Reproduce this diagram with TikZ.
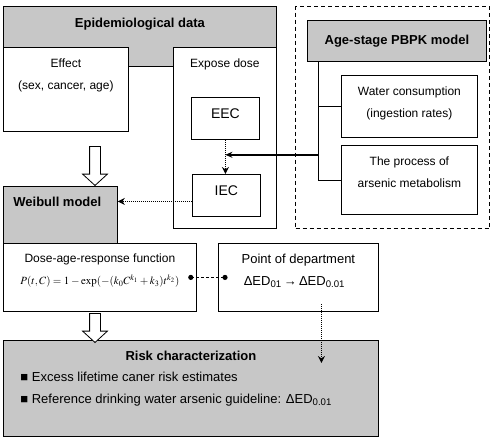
\documentclass[tikz,border=0pt]{standalone}
\usepackage{amsmath}
\usepackage{mathptmx}
\usepackage{xcolor}
\usepackage{fontspec}
\setmainfont{Liberation Sans}
\usepackage{tikz}
\usetikzlibrary{positioning,shapes.arrows,arrows.meta}

\begin{document}
\begin{tikzpicture}
            [
                x=1pt, y=-1pt,
                line width=0.8pt,
                font=\fontsize{12}{22}\selectfont
            ]
            \tikzset{
                graybox/.style = {rectangle, draw=black, fill=black!22, anchor=north west, inner sep=0pt},
                whitebox/.style = {rectangle, draw=black, fill=white, anchor=north west, inner sep=0pt},
                headtext/.style = {font=\fontsize{13}{15}\selectfont\bfseries, inner sep=0pt},
                boxtext/.style = {align=center, inner sep=0pt},
                dotarrow/.style = {dash pattern=on 1pt off 1pt, line width=1.5pt, -{Stealth[length=7pt,width=7pt]}},
                hollowarrow/.style = {single arrow, draw=black, fill=white, rotate=-90, inner xsep=0pt, inner ysep=5pt,
                                      single arrow head extend=7pt, single arrow tip angle=95, minimum width=24pt}
            }
            \useasboundingbox (0,0) rectangle (495,439);
            \node [graybox, minimum width=273pt, minimum height=60pt] (epi) at (3,6) {};
            \node [headtext, below=11.3pt of epi.north] (epititle) {Epidemiological data};
            \node [whitebox, minimum width=125pt, minimum height=84pt] (effect) at (3,47) {};
            \node [boxtext, below=11.5pt of effect.north] (effecttext) {Effect\\(sex, cancer, age)};
            \node [whitebox, minimum width=103pt, minimum height=181pt] (expose) at (173,47) {};
            \node [boxtext, below=11.5pt of expose.north] (exposetext) {Expose dose};
            \node [whitebox, minimum width=68pt, minimum height=42pt] (eec) at (191,97) {};
            \node [font=\fontsize{14}{16}\selectfont, inner sep=0pt] (eectext) at ([yshift=5pt]eec.center) {EEC};
            \node [whitebox, minimum width=68pt, minimum height=42pt] (iec) at (192,174) {};
            \node [font=\fontsize{14}{16}\selectfont, inner sep=0pt] (iectext) at ([yshift=5pt]iec.center) {IEC};
            \draw [dotarrow] (eec.south) -- (eec.south |- iec.north);

            \node [rectangle, draw=black, line width=1.1pt, dash pattern=on 4pt off 3pt, anchor=north west,
                   minimum width=194pt, minimum height=222pt] (pbpkframe) at (295,6) {};
            \node [graybox, minimum width=179pt, minimum height=41pt, headtext] (pbpk) at (307,20) {Age-stage PBPK model};
            \node [whitebox, minimum width=136pt, minimum height=62pt] (water) at (341,75) {};
            \node [boxtext, below=11.5pt of water.north] (watertext) {Water consumption\\(ingestion rates)};
            \node [whitebox, minimum width=136pt, minimum height=69pt] (process) at (341,145) {};
            \node [boxtext, below=11.5pt of process.north] (processtext) {The process of\\arsenic metabolism};
            \coordinate (trunk) at ([xshift=11pt]pbpk.south west);
            \draw (trunk) |- (water.west);
            \draw (trunk) |- (process.west);
            \path (trunk) ++(0,93) coordinate (branch);
            \draw [line width=1.5pt, -{Stealth[length=7pt,width=6pt]}] (branch) -- (eec.south |- branch);

            \node [graybox, minimum width=114pt, minimum height=57pt] (weibull) at (3,186) {};
            \node [headtext, anchor=north west, below right=10.3pt and 10pt of weibull.north west] (weibulltext) {Weibull model};
            \coordinate (iecout) at ([yshift=-6pt]iec.west);
            \draw [dotarrow] (iecout) -- (iecout -| weibull.east);
            \node [hollowarrow, minimum height=39pt] (arrowA) at (95,163.5) {};

            \node [whitebox, minimum width=193pt, minimum height=68pt] (doseage) at (3,243) {};
            \node [boxtext, below=10.7pt of doseage.north] (dosetext) {Dose-age-response function};
            \node [inner sep=0pt, font=\fontsize{11}{13}\selectfont] (formula) at ([yshift=-38pt]doseage.north)
                {$P(t,C)=1-\exp(-(k_0C^{k_1}+k_3)t^{k_2})$};
            \node [whitebox, minimum width=160pt, minimum height=68pt] (pod) at (218,243) {};
            \node [boxtext, font=\fontsize{13}{15}\selectfont, below=10.3pt of pod.north] (podtext) {Point of department};
            \node [inner sep=0pt, font=\fontsize{13}{15}\selectfont] (edtext) at ([yshift=-39pt, xshift=-4pt]pod.north)
                {ΔED\textsubscript{01}\,→\,ΔED\textsubscript{0.01}};
            \coordinate (dotL) at ([xshift=-6pt]doseage.east);
            \coordinate (dotR) at ([xshift=7pt]pod.west);
            \draw [dash pattern=on 3pt off 2pt] (dotL) -- (dotR);
            \fill (dotL) circle (2.6pt);
            \fill (dotR) circle (2.6pt);

            \node [graybox, minimum width=375pt, minimum height=96pt] (risk) at (3,340) {};
            \node [headtext, below=10.5pt of risk.north] (risktitle) {Risk characterization};
            \node [anchor=base west, inner sep=0pt, font=\fontsize{13}{15}\selectfont] (bulletA)
                at ([xshift=17pt, yshift=-41.6pt]risk.north west) {■ Excess lifetime caner risk estimates};
            \node [anchor=base west, inner sep=0pt, font=\fontsize{13}{15}\selectfont] (bulletB)
                at ([xshift=17pt, yshift=-63.6pt]risk.north west) {■ Reference drinking water arsenic guideline: ΔED\textsubscript{0.01}};
            \node [hollowarrow, minimum height=29pt] (arrowB) at (95,325.5) {};
            \coordinate (podout) at ([xshift=23pt, yshift=8pt]pod.south);
            \path (podout |- risk.north) ++(0,23) coordinate (riskin);
            \draw [dotarrow] (podout) -- (riskin);
        \end{tikzpicture}
\end{document}
